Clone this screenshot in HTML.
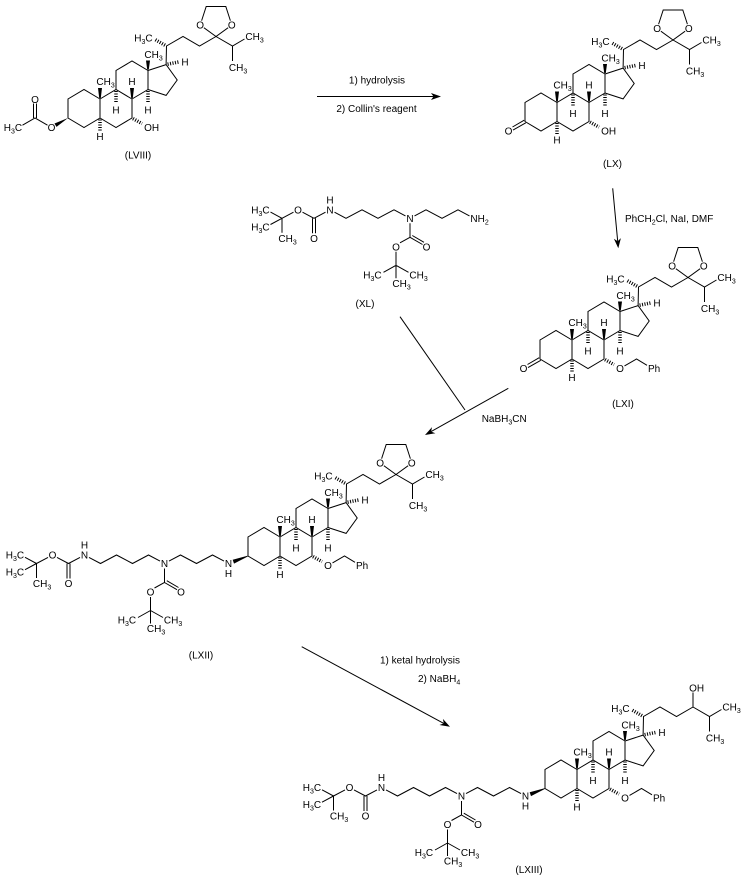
<!DOCTYPE html>
<html>
<head>
<meta charset="utf-8">
<style>
html,body{margin:0;padding:0;background:#fff;}
svg{display:block;}
text{font-family:"Liberation Sans",Arial,sans-serif;font-size:10px;fill:#000;}
.m{text-anchor:middle;}
.e{text-anchor:end;}
.s{font-size:7px;}
.b{fill:none;stroke:#000;stroke-width:1;}
.hs{fill:none;stroke:#000;stroke-width:3.5;stroke-dasharray:1 1.5;}
.w{fill:#000;stroke:none;}
</style>
</head>
<body>
<svg width="745" height="877" viewBox="0 0 745 877" xmlns="http://www.w3.org/2000/svg">
<rect x="0" y="0" width="745" height="877" fill="#fff"/>
<defs>
<g id="core">
 <path class="b" d="M0,0 L-16,-9.5 L-32,0 L-32,19 L-16,28.5 L0,19 Z M0,0 L16,-9.5 L32,0 L32,19 L16,28.5 L0,19 M16,-9.5 L16,-28.5 L32,-38 L48,-28.5 L48,-9.5 L32,0 M48,-28.5 L66.1,-34.4 L77.2,-19 L66.1,-3.6 L48,-9.5 M66.1,-34.4 L66.5,-53 L83,-62.5 L99.5,-53 L116,-62.5"/>
 <path class="hs" d="M16,-8 L16,4.5 M48,-8 L48,4.5 M0,20.5 L0,31.5 M67.6,-34.8 L79.5,-37.2 M33,19.6 L42,24.6 M65,-53.8 L55,-59.5"/>
 <path class="w" d="M-0.8,-1 L0.8,-1 L2,-11 L-2,-11 Z M31.2,-1 L32.8,-1 L34,-11 L30,-11 Z M47.2,-29.5 L48.8,-29.5 L50,-38.5 L46,-38.5 Z"/>
</g>
<g id="ketal">
 <path class="b" d="M116,-62.5 L100.2,-74 L106.2,-92.5 L125.8,-92.5 L131.8,-74 Z M116,-62.5 L132.5,-53 L144.5,-60 M132.5,-53 L132.5,-38"/>
 <circle cx="100.2" cy="-74" r="4.6" fill="#fff"/>
 <circle cx="131.8" cy="-74" r="4.6" fill="#fff"/>
</g>
<g id="ohchain">
 <path class="b" d="M116,-62.5 L116,-77 M116,-62.5 L132.5,-53 L144.5,-60 M132.5,-53 L132.5,-38"/>
</g>
<g id="obn">
 <path class="b" d="M52.5,25.9 L64.5,19 L75,25.3"/>
</g>
<g id="ketone">
 <path class="b" d="M-31.2,20.3 L-44,27.6 M-32.8,17.7 L-44.5,24.5"/>
</g>
<g id="nhwedge">
 <path class="w" d="M-32,18.6 L-32,19.4 L-46,26.6 L-47.3,22.8 Z"/>
</g>
<g id="chain">
 <path class="b" d="M-75.5,-6.1 L-64,0 L-48,-8.5 L-32,0 L-16,-8.5 L-4.5,-2.4 M-84.5,-6.1 L-96,0 L-107.5,-6.1 M-116.5,-6.1 L-128,0 L-139.5,-6.2 M-128,0 L-139.5,6.2 M-128,0 L-128,14.5 M-97.5,0 L-97.5,15 M-94.5,0 L-94.5,15 M4.5,-2.4 L16,-8.5 L32,0 L48,-8.5 L59.5,-2.4 M0,5 L0,19 L-10,24.5 M0,19 L12.5,26.2 M2.3,17.2 L14,24 M-14,33.5 L-14,47 L-26.5,54 M-14,47 L-1.5,54 M-14,47 L-14,60"/>
</g>
</defs>

<!-- Arrows -->
<path class="b" d="M317,96.5 L434,96.5"/>
<path class="w" d="M441,96.5 L431,93 L433.5,96.5 L431,100 Z"/>
<text class="m" x="377" y="83.5">1) hydrolysis</text>
<text class="m" x="376.5" y="112">2) Collin's reagent</text>

<path class="b" d="M612.7,188.3 L617.7,241.3"/>
<path class="w" d="M618.3,248.3 L620.9,238.1 L617.7,241.3 L613.9,238.7 Z"/>
<text x="625" y="222">PhCH<tspan class="s" dy="2.5">2</tspan><tspan dy="-2.5">Cl, NaI, DMF</tspan></text>

<path class="b" d="M508.3,388.3 L431.1,431.6"/>
<path class="w" d="M425,435 L435.4,433.2 L431.1,431.6 L432,427.1 Z"/>
<path class="b" d="M400,316.7 L465,410"/>
<text x="481.7" y="422">NaBH<tspan class="s" dy="2.5">3</tspan><tspan dy="-2.5">CN</tspan></text>

<path class="b" d="M301.7,646.7 L443.8,723.4"/>
<path class="w" d="M450,726.7 L439.5,725 L443.8,723.4 L442.9,718.9 Z"/>
<text x="380" y="663.6">1) ketal hydrolysis</text>
<text x="418" y="682">2) NaBH<tspan class="s" dy="2.5">4</tspan></text>

<!-- LVIII -->
<g transform="translate(100,99)">
 <use href="#core"/><use href="#ketal"/>
 <path class="w" d="M-32,19 L-43.5,27.9 L-45.5,24.5 Z"/>
 <path class="b" d="M-52.5,26.2 L-65,19 L-77.5,26.2 M-66.5,19 L-66.5,4.5 M-63.5,19 L-63.5,4.5"/>
 <text x="-3.6" y="-13.9">CH<tspan class="s" dy="2.5">3</tspan></text>
 <text class="m" x="16" y="14.6">H</text>
 <text class="m" x="32" y="-13.9">H</text>
 <text class="m" x="48" y="14.6">H</text>
 <text x="44.4" y="-40.9">CH<tspan class="s" dy="2.5">3</tspan></text>
 <text class="m" x="85" y="-33.7">H</text>
 <text class="e" x="52.6" y="-57.4">H<tspan class="s" dy="2.5">3</tspan><tspan dy="-2.5">C</tspan></text>
 <text class="m" x="0" y="41.1">H</text>
 <text class="m" x="100.2" y="-70.4">O</text>
 <text class="m" x="131.8" y="-70.4">O</text>
 <text x="145.4" y="-58.9">CH<tspan class="s" dy="2.5">3</tspan></text>
 <text x="128.9" y="-27.9">CH<tspan class="s" dy="2.5">3</tspan></text>
 <text x="44.1" y="32.1">OH</text>
 <text class="m" x="-48.5" y="32.1">O</text>
 <text class="m" x="-65" y="4.1">O</text>
 <text class="e" x="-77.9" y="32.1">H<tspan class="s" dy="2.5">3</tspan><tspan dy="-2.5">C</tspan></text>
</g>
<text class="m" x="138" y="158.6">(LVIII)</text>

<!-- LX -->
<g transform="translate(557,102.5)">
 <use href="#core"/><use href="#ketal"/><use href="#ketone"/>
 <text x="-3.6" y="-13.9">CH<tspan class="s" dy="2.5">3</tspan></text>
 <text class="m" x="16" y="14.6">H</text>
 <text class="m" x="32" y="-13.9">H</text>
 <text class="m" x="48" y="14.6">H</text>
 <text x="44.4" y="-40.9">CH<tspan class="s" dy="2.5">3</tspan></text>
 <text class="m" x="85" y="-33.7">H</text>
 <text class="e" x="52.6" y="-57.4">H<tspan class="s" dy="2.5">3</tspan><tspan dy="-2.5">C</tspan></text>
 <text class="m" x="0" y="41.1">H</text>
 <text class="m" x="100.2" y="-70.4">O</text>
 <text class="m" x="131.8" y="-70.4">O</text>
 <text x="145.4" y="-58.9">CH<tspan class="s" dy="2.5">3</tspan></text>
 <text x="128.9" y="-27.9">CH<tspan class="s" dy="2.5">3</tspan></text>
 <text x="44.1" y="32.1">OH</text>
 <text class="m" x="-48.5" y="32.1">O</text>
</g>
<text class="m" x="612.5" y="167">(LX)</text>

<!-- XL -->
<g transform="translate(410,218.3)">
 <use href="#chain"/>
 <text class="e" x="-140.4" y="-4.9">H<tspan class="s" dy="2.5">3</tspan><tspan dy="-2.5">C</tspan></text>
 <text class="e" x="-140.4" y="12.1">H<tspan class="s" dy="2.5">3</tspan><tspan dy="-2.5">C</tspan></text>
 <text x="-131.6" y="23.6">CH<tspan class="s" dy="2.5">3</tspan></text>
 <text class="m" x="-112" y="-4.9">O</text>
 <text class="m" x="-96" y="23.6">O</text>
 <text class="m" x="-80" y="-4.9">N</text>
 <text class="m" x="-80" y="-14.9">H</text>
 <text class="m" x="0" y="3.6">N</text>
 <text class="m" x="16.5" y="32.1">O</text>
 <text class="m" x="-14" y="32.1">O</text>
 <text class="e" x="-28.4" y="60.1">H<tspan class="s" dy="2.5">3</tspan><tspan dy="-2.5">C</tspan></text>
 <text x="-0.6" y="60.1">CH<tspan class="s" dy="2.5">3</tspan></text>
 <text x="-17.6" y="68.6">CH<tspan class="s" dy="2.5">3</tspan></text>
 <text x="60.4" y="3.6">NH<tspan class="s" dy="2.5">2</tspan></text>
</g>
<text class="m" x="365" y="307">(XL)</text>

<!-- LXI -->
<g transform="translate(572,340)">
 <use href="#core"/><use href="#ketal"/><use href="#ketone"/><use href="#obn"/>
 <text x="-3.6" y="-13.9">CH<tspan class="s" dy="2.5">3</tspan></text>
 <text class="m" x="16" y="14.6">H</text>
 <text class="m" x="32" y="-13.9">H</text>
 <text class="m" x="48" y="14.6">H</text>
 <text x="44.4" y="-40.9">CH<tspan class="s" dy="2.5">3</tspan></text>
 <text class="m" x="85" y="-33.7">H</text>
 <text class="e" x="52.6" y="-57.4">H<tspan class="s" dy="2.5">3</tspan><tspan dy="-2.5">C</tspan></text>
 <text class="m" x="0" y="41.1">H</text>
 <text class="m" x="100.2" y="-70.4">O</text>
 <text class="m" x="131.8" y="-70.4">O</text>
 <text x="145.4" y="-58.9">CH<tspan class="s" dy="2.5">3</tspan></text>
 <text x="128.9" y="-27.9">CH<tspan class="s" dy="2.5">3</tspan></text>
 <text class="m" x="48" y="32.1">O</text>
 <text x="76" y="32.1">Ph</text>
 <text class="m" x="-48.5" y="32.1">O</text>
</g>
<text class="m" x="623" y="407">(LXI)</text>

<!-- LXII -->
<g transform="translate(280,537)">
 <use href="#core"/><use href="#ketal"/><use href="#obn"/><use href="#nhwedge"/>
 <text x="-3.6" y="-13.9">CH<tspan class="s" dy="2.5">3</tspan></text>
 <text class="m" x="16" y="14.6">H</text>
 <text class="m" x="32" y="-13.9">H</text>
 <text class="m" x="48" y="14.6">H</text>
 <text x="44.4" y="-40.9">CH<tspan class="s" dy="2.5">3</tspan></text>
 <text class="m" x="85" y="-33.7">H</text>
 <text class="e" x="52.6" y="-57.4">H<tspan class="s" dy="2.5">3</tspan><tspan dy="-2.5">C</tspan></text>
 <text class="m" x="0" y="41.1">H</text>
 <text class="m" x="100.2" y="-70.4">O</text>
 <text class="m" x="131.8" y="-70.4">O</text>
 <text x="145.4" y="-58.9">CH<tspan class="s" dy="2.5">3</tspan></text>
 <text x="128.9" y="-27.9">CH<tspan class="s" dy="2.5">3</tspan></text>
 <text class="m" x="48" y="32.1">O</text>
 <text x="76" y="32.1">Ph</text>
</g>
<g transform="translate(164.5,563.5)">
 <use href="#chain"/>
 <text class="e" x="-140.4" y="-4.9">H<tspan class="s" dy="2.5">3</tspan><tspan dy="-2.5">C</tspan></text>
 <text class="e" x="-140.4" y="12.1">H<tspan class="s" dy="2.5">3</tspan><tspan dy="-2.5">C</tspan></text>
 <text x="-131.6" y="23.6">CH<tspan class="s" dy="2.5">3</tspan></text>
 <text class="m" x="-112" y="-4.9">O</text>
 <text class="m" x="-96" y="23.6">O</text>
 <text class="m" x="-80" y="-4.9">N</text>
 <text class="m" x="-80" y="-14.9">H</text>
 <text class="m" x="0" y="3.6">N</text>
 <text class="m" x="16.5" y="32.1">O</text>
 <text class="m" x="-14" y="32.1">O</text>
 <text class="e" x="-28.4" y="60.1">H<tspan class="s" dy="2.5">3</tspan><tspan dy="-2.5">C</tspan></text>
 <text x="-0.6" y="60.1">CH<tspan class="s" dy="2.5">3</tspan></text>
 <text x="-17.6" y="68.6">CH<tspan class="s" dy="2.5">3</tspan></text>
 <text class="m" x="64" y="3.6">N</text>
 <text class="m" x="64" y="13.6">H</text>
</g>
<text class="m" x="201" y="658.6">(LXII)</text>

<!-- LXIII -->
<g transform="translate(577,769.5)">
 <use href="#core"/><use href="#ohchain"/><use href="#obn"/><use href="#nhwedge"/>
 <text x="-3.6" y="-13.9">CH<tspan class="s" dy="2.5">3</tspan></text>
 <text class="m" x="16" y="14.6">H</text>
 <text class="m" x="32" y="-13.9">H</text>
 <text class="m" x="48" y="14.6">H</text>
 <text x="44.4" y="-40.9">CH<tspan class="s" dy="2.5">3</tspan></text>
 <text class="m" x="85" y="-33.7">H</text>
 <text class="e" x="52.6" y="-57.4">H<tspan class="s" dy="2.5">3</tspan><tspan dy="-2.5">C</tspan></text>
 <text class="m" x="0" y="41.1">H</text>
 <text x="112.1" y="-77.9">OH</text>
 <text x="145.4" y="-58.9">CH<tspan class="s" dy="2.5">3</tspan></text>
 <text x="128.9" y="-27.9">CH<tspan class="s" dy="2.5">3</tspan></text>
 <text class="m" x="48" y="32.1">O</text>
 <text x="76" y="32.1">Ph</text>
</g>
<g transform="translate(461.5,796)">
 <use href="#chain"/>
 <text class="e" x="-140.4" y="-4.9">H<tspan class="s" dy="2.5">3</tspan><tspan dy="-2.5">C</tspan></text>
 <text class="e" x="-140.4" y="12.1">H<tspan class="s" dy="2.5">3</tspan><tspan dy="-2.5">C</tspan></text>
 <text x="-131.6" y="23.6">CH<tspan class="s" dy="2.5">3</tspan></text>
 <text class="m" x="-112" y="-4.9">O</text>
 <text class="m" x="-96" y="23.6">O</text>
 <text class="m" x="-80" y="-4.9">N</text>
 <text class="m" x="-80" y="-14.9">H</text>
 <text class="m" x="0" y="3.6">N</text>
 <text class="m" x="16.5" y="32.1">O</text>
 <text class="m" x="-14" y="32.1">O</text>
 <text class="e" x="-28.4" y="60.1">H<tspan class="s" dy="2.5">3</tspan><tspan dy="-2.5">C</tspan></text>
 <text x="-0.6" y="60.1">CH<tspan class="s" dy="2.5">3</tspan></text>
 <text x="-17.6" y="68.6">CH<tspan class="s" dy="2.5">3</tspan></text>
 <text class="m" x="64" y="3.6">N</text>
 <text class="m" x="64" y="13.6">H</text>
</g>
<text class="m" x="529" y="873">(LXIII)</text>
</svg>
</body>
</html>
